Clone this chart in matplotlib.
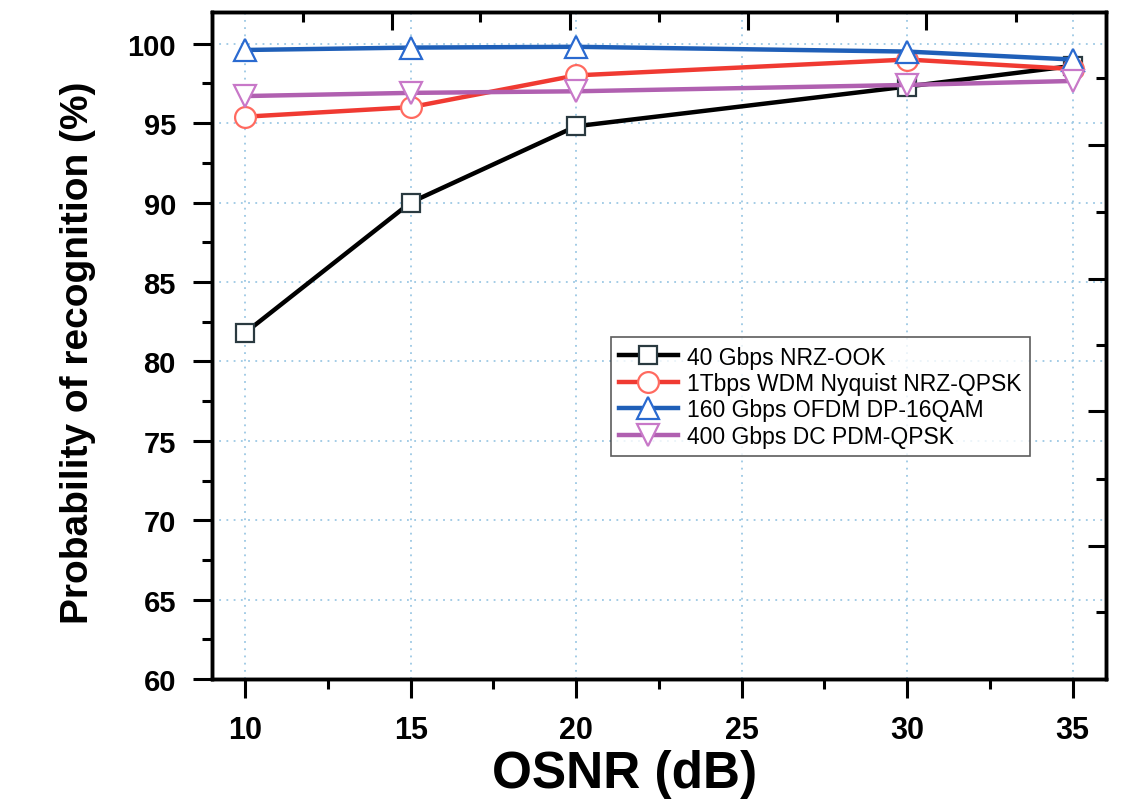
import matplotlib
matplotlib.use('Agg')
import matplotlib.pyplot as plt
from matplotlib.ticker import MultipleLocator, FixedLocator, NullFormatter

# OSNR points (dB)
osnr = [10, 15, 20, 30, 35]

# probability of recognition (%) per format
nrz_ook = [81.8, 90.0, 94.8, 97.3, 98.6]
wdm_qpsk = [95.4, 96.0, 98.0, 99.0, 98.4]
ofdm_16qam = [99.6, 99.75, 99.8, 99.5, 99.0]
dc_pdm_qpsk = [96.7, 96.9, 97.0, 97.4, 97.65]

labels = ['40 Gbps NRZ-OOK', '1Tbps WDM Nyquist NRZ-QPSK',
          '160 Gbps OFDM DP-16QAM', '400 Gbps DC PDM-QPSK']

# odd extra ticks on top / right frame (as in the original)
top_major = [14.45, 19.81, 25.19, 30.58]
top_minor = [11.74, 17.1, 22.5, 27.87, 33.28]
right_major = [93.64, 85.2, 76.88, 68.38]
right_minor = [97.86, 89.4, 81.04, 72.6, 64.2]

plt.rcParams['font.family'] = ['Liberation Sans', 'DejaVu Sans']

fig = plt.figure(figsize=(11.4, 8.03), dpi=100)
ax = fig.add_axes([0.186, 0.153, 0.784, 0.831])

styles = [
    dict(color='black', marker='s', mec='#2a3a40', ms=13),
    dict(color='#f03a32', marker='o', mec='#ff6a60', ms=15),
    dict(color='#1f5fb8', marker='^', mec='#2a6ad0', ms=16),
    dict(color='#b060b0', marker='v', mec='#c878c8', ms=16),
]
series = [nrz_ook, wdm_qpsk, ofdm_16qam, dc_pdm_qpsk]
order = [3, 1, 0, 2]
lines = {}
for i in order:
    st = styles[i]
    ln, = ax.plot(osnr, series[i], color=st['color'], lw=3.2,
                  marker=st['marker'], ms=st['ms'], mfc='white',
                  mec=st['mec'], mew=1.6, label=labels[i], zorder=3 + i)
    lines[i] = ln

ax.set_xlim(9.0, 36.0)
ax.set_ylim(60, 102)
ax.xaxis.set_major_locator(MultipleLocator(5))
ax.xaxis.set_minor_locator(MultipleLocator(2.5))
ax.yaxis.set_major_locator(MultipleLocator(5))
ax.yaxis.set_minor_locator(MultipleLocator(2.5))

ax.grid(True, which='major', color='#9cc8e4', linestyle=(0, (1, 3)), lw=1.3)
ax.set_axisbelow(True)

ax.tick_params(axis='both', which='major', direction='out', length=14,
               width=2.2, pad=12)
ax.tick_params(axis='both', which='minor', direction='out', length=7,
               width=2.2)
ax.tick_params(axis='y', which='major', pad=12)
for lab in ax.get_yticklabels():
    lab.set_fontsize(21)
    lab.set_fontweight('bold')
for lab in ax.get_xticklabels():
    lab.set_fontsize(22)
    lab.set_fontweight('bold')

for sp in ax.spines.values():
    sp.set_linewidth(2.4)

ax.set_ylabel('Probability of recognition (%)', fontsize=28,
              fontweight='bold')
ax.yaxis.set_label_coords(-0.13, 0.49)
ax.set_xlabel('OSNR (dB)', fontsize=37, fontweight='bold')
ax.xaxis.set_label_coords(0.462, -0.105)

# inward ticks on top and right frame
axt = ax.twiny()
axt.set_xlim(ax.get_xlim())
axt.xaxis.set_major_locator(FixedLocator(top_major))
axt.xaxis.set_minor_locator(FixedLocator(top_minor))
axt.xaxis.set_major_formatter(NullFormatter())
axt.tick_params(axis='x', which='major', direction='in', length=13, width=2.2)
axt.tick_params(axis='x', which='minor', direction='in', length=7, width=2.2)

axr = ax.twinx()
axr.set_ylim(ax.get_ylim())
axr.yaxis.set_major_locator(FixedLocator(right_major))
axr.yaxis.set_minor_locator(FixedLocator(right_minor))
axr.yaxis.set_major_formatter(NullFormatter())
axr.tick_params(axis='y', which='major', direction='in', length=13, width=2.2)
axr.tick_params(axis='y', which='minor', direction='in', length=7, width=2.2)
for a in (axt, axr):
    for sp in a.spines.values():
        sp.set_linewidth(2.4)

handles = [lines[i] for i in range(4)]
leg = axr.legend(handles, labels, loc='upper left',
                 bbox_to_anchor=(0.446, 0.512), fontsize=16.5,
                 frameon=True, fancybox=False, handlelength=2.6,
                 handletextpad=0.4, borderpad=0.35, labelspacing=0.15,
                 borderaxespad=0)
leg.get_frame().set_edgecolor('#333333')
leg.get_frame().set_linewidth(1.2)

fig.savefig('out.png', dpi=100)
